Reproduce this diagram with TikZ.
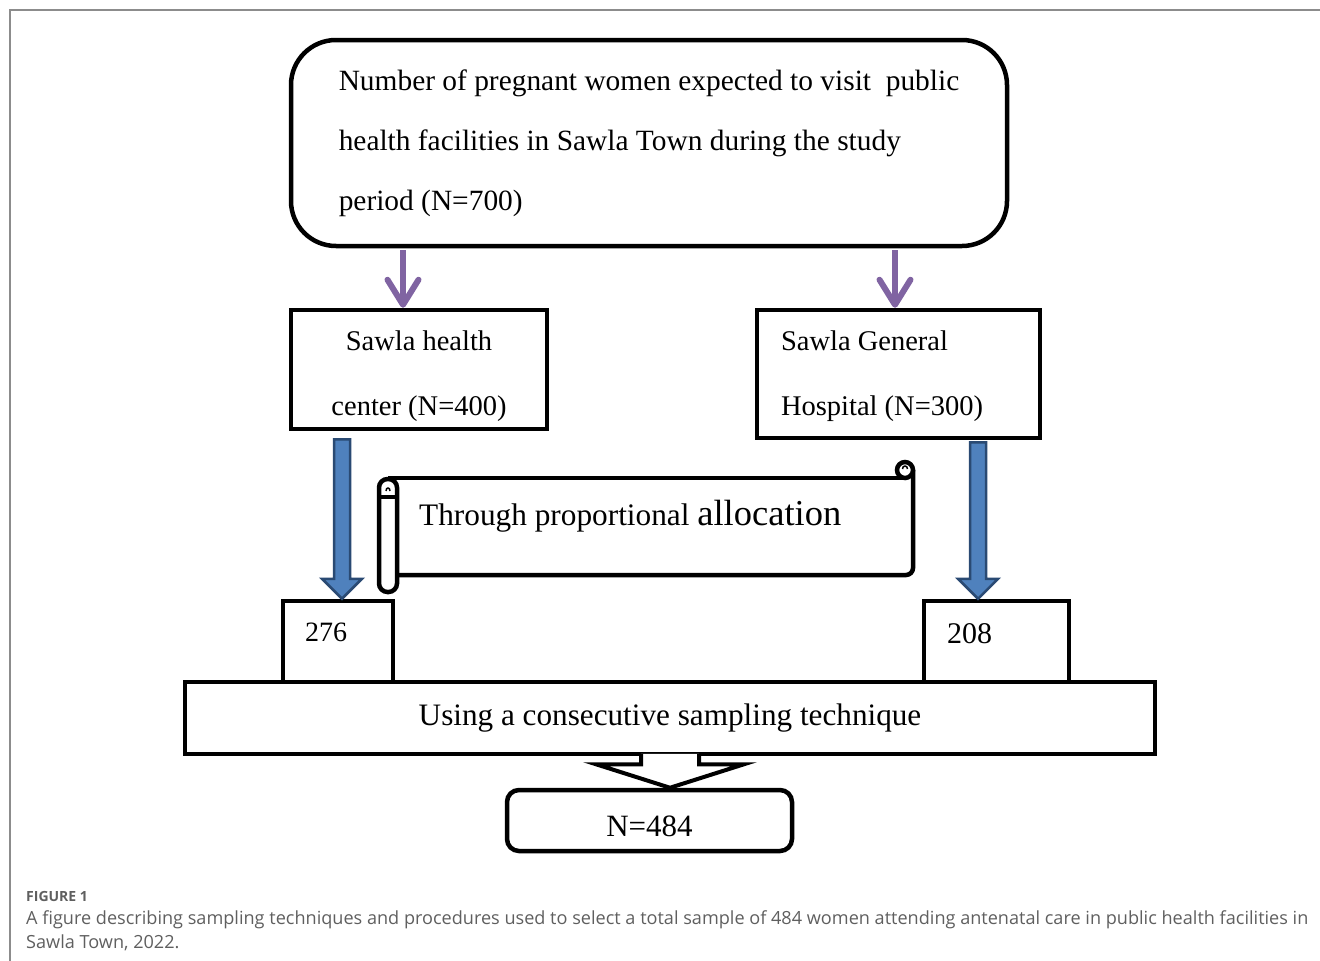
\documentclass[tikz,border=0pt]{standalone}
\usepackage{fontspec}
\setmainfont{Liberation Serif}
\newfontfamily\capfont{Open Sans}
\usetikzlibrary{arrows.meta,calc,positioning}
\definecolor{framegray}{HTML}{8C8C8C}
\definecolor{capgray}{HTML}{5F5F5F}
\definecolor{arrowpurple}{HTML}{8064A2}
\definecolor{blockfill}{HTML}{4F81BD}
\definecolor{blockline}{HTML}{2A4A73}
\tikzset{
    box/.style={
        rectangle,
        draw=black,
        line width=4.5pt,
        inner sep=0pt,
        font=\fontsize{28.5}{65}\selectfont,
    },
    roundbox/.style={
        box,
        rounded corners=45pt,
    },
    thinarrow/.style={
        draw=arrowpurple,
        line width=6pt,
        -{Straight Barb[length=25pt,width=31pt,round]},
    },
    blockarrow/.style={
        draw=blockline,
        fill=blockfill,
        line width=2.5pt,
        line join=miter,
        to path={let \p1=(\tikztostart), \p2=(\tikztotarget) in
            (\x1-8pt,\y1) -- (\x1-8pt,\y2+20pt) -- (\x1-20pt,\y2+20pt) -- (\x1,\y2)
            -- (\x1+20pt,\y2+20pt) -- (\x1+8pt,\y2+20pt) -- (\x1+8pt,\y1) -- cycle},
    },
    chevron/.style={
        draw=black,
        fill=white,
        line width=4pt,
        line join=miter,
        to path={let \p1=(\tikztostart), \p2=(\tikztotarget) in
            (\x1-29pt,\y1+2.5pt) -- (\x1-29pt,\y1-8pt) -- (\x1-74pt,\y1-8pt) -- (\x1,\y2)
            -- (\x1+74pt,\y1-8pt) -- (\x1+29pt,\y1-8pt) -- (\x1+29pt,\y1+2.5pt)},
    },
    captext/.style={
        anchor=base west,
        inner sep=0pt,
        text=capgray,
        font=\capfont\fontsize{18.1}{24}\selectfont,
    },
}
\begin{document}
\begin{tikzpicture}[x=1pt,y=-1pt]
    \useasboundingbox (0,0) rectangle (1320,961);
    \draw [framegray,line width=1.5pt] (10,961) -- (10,10) -- (1320,10);

    % boxes
    \node [roundbox,minimum width=716pt,minimum height=206pt,align=flush left,
        font=\fontsize{29.4}{60}\selectfont] (pop) at (649,143)
        {Number of pregnant women expected to visit\ \ public\\
         health facilities in Sawla Town during the study\\
         period (N=700)};
    \node [box,minimum width=256pt,minimum height=119pt,align=center] (hc) at (419,369.5)
        {\rule{0pt}{34pt}Sawla health\\center (N=400)};
    \node [box,minimum width=283pt,minimum height=128pt,align=flush left,text width=235pt] (hosp) at (898.5,374)
        {\rule{0pt}{23.5pt}Sawla General\\Hospital (N=300)};
    \node [box,minimum width=110pt,minimum height=81pt,align=flush left,text width=66pt,
        text height=20pt,text depth=21pt,font=\fontsize{28}{28}\selectfont] (n276) at (338,641.5) {276};
    \node [box,minimum width=145pt,minimum height=81pt,align=flush left,text width=99pt,
        text height=20pt,text depth=17pt,font=\fontsize{30}{30}\selectfont] (n208) at (996.5,641.5) {208};
    \node [box,minimum width=970pt,minimum height=72pt,font=\fontsize{31.2}{31}\selectfont] (consec) at (670,718)
        {Using a consecutive sampling technique};
    \node [box,rounded corners=12pt,minimum width=285pt,minimum height=61pt,
        text height=31pt,text depth=0pt,font=\fontsize{31}{31}\selectfont] (res) at (649.5,820.5) {N=484};

    % scroll
    \begin{scope}[line width=4.5pt]
        \draw (388,478) -- (905,478);
        \draw [rounded corners=7pt] (913,470) -- (913,575) -- (397,575);
        \draw [fill=white] (905,470) circle [radius=8];
        \draw [line width=1.5pt] (902.5,469) .. controls (902.5,465) and (907.5,465) .. (907.5,469);
        \draw [fill=white,rounded corners=8.5pt] (379,479) rectangle (397,592);
        \draw (379,497) -- (397,497);
        \draw [line width=1.5pt] (386,491) .. controls (386,487) and (390,487) .. (390,491);
    \end{scope}
    \node [anchor=base west,inner sep=0pt,font=\fontsize{31.3}{31}\selectfont] (alloc) at (419,525)
        {Through proportional {\fontsize{36.5}{36}\selectfont allocation}};

    % arrows
    \draw [thinarrow] ([xshift=-16pt,yshift=-2pt]hc.north |- pop.south) -- ([xshift=-16pt]hc.north);
    \draw [thinarrow] ([xshift=-3.5pt,yshift=-2pt]hosp.north |- pop.south) -- ([xshift=-3.5pt]hosp.north);
    \draw [blockarrow] ([xshift=-77pt,yshift=-8pt]hc.south) to (n276.north);
    \draw [blockarrow] ([xshift=79.5pt,yshift=-2pt]hosp.south) to (n208.north);
    \draw [chevron] (consec.south) to (res.north);

    % caption
    \node [captext,font=\capfont\bfseries\fontsize{14}{14}\selectfont] (fig) at (26,901) {FIGURE 1};
    \node [captext] (cap1) at (26,924)
        {A figure describing sampling techniques and procedures used to select a total sample of 484 women attending antenatal care in public health facilities in};
    \node [captext] (cap2) at (26,948) {Sawla Town, 2022.};
\end{tikzpicture}
\end{document}
